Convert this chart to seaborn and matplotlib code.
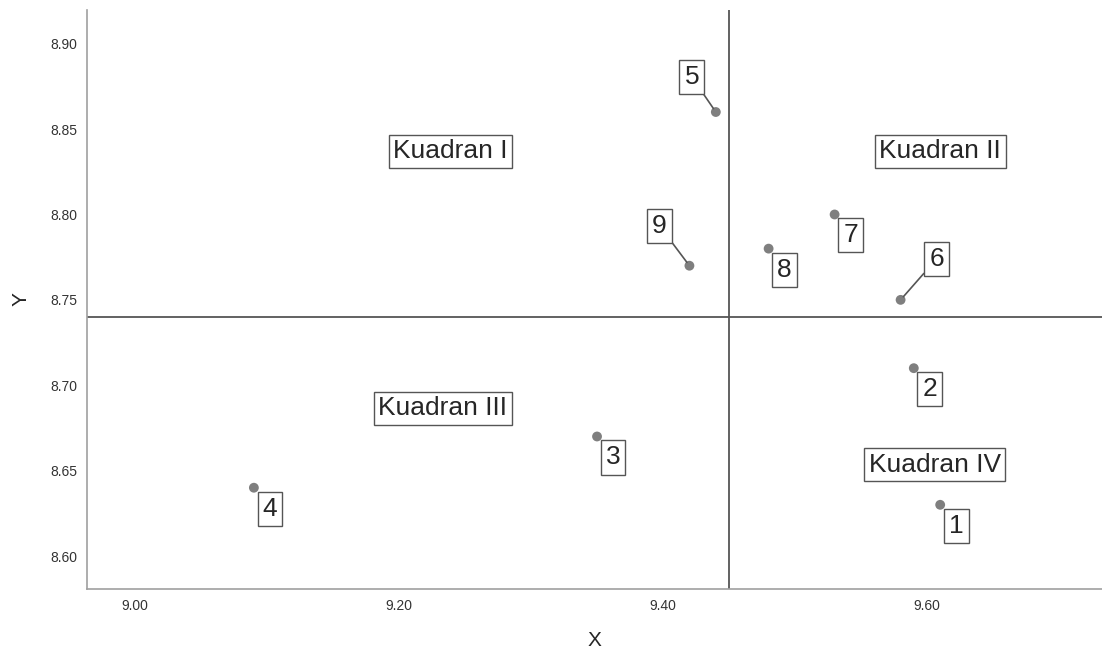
import matplotlib
matplotlib.use("Agg")
import matplotlib.pyplot as plt
import seaborn as sns
import pandas as pd

# data
ids = ["1", "2", "3", "4", "5", "6", "7", "8", "9"]
x_vals = [9.61, 9.59, 9.35, 9.09, 9.44, 9.58, 9.53, 9.48, 9.42]
y_vals = [8.63, 8.71, 8.67, 8.64, 8.86, 8.75, 8.80, 8.78, 8.77]
x_ref = 9.45
y_ref = 8.74
quadrants = ["Kuadran I", "Kuadran II", "Kuadran III", "Kuadran IV"]

df = pd.DataFrame({"id": ids, "X": x_vals, "Y": y_vals})

sns.set_style("white")
plt.rcParams["font.family"] = ["Liberation Sans", "DejaVu Sans"]

fig = plt.figure(figsize=(11.02, 6.54), dpi=100)
ax = fig.add_axes([0.079, 0.0994, 0.921, 0.886])

ax.axvline(x_ref, color="#555555", lw=1.3, zorder=1)
ax.axhline(y_ref, color="#555555", lw=1.3, zorder=1)

sns.scatterplot(data=df, x="X", y="Y", ax=ax, color="#7f7f7f", s=50,
                edgecolor="none", zorder=3)

# label offsets in pixels (dx, dy) from each point
offsets = [(16, -21), (16, -21), (16, -21), (16, -21), (-24, 35),
           (36, 41), (16, -21), (16, -21), (-30, 40)]
box = dict(boxstyle="square,pad=0.19", fc="white", ec="#555555", lw=1)
for lab, px, py, (dx, dy) in zip(ids, x_vals, y_vals, offsets):
    # only displaced labels get a leader line
    far = (dx ** 2 + dy ** 2) ** 0.5 > 40
    arrow = dict(arrowstyle="-", color="#555555", lw=1.2, shrinkA=0, shrinkB=3) if far else None
    ax.annotate(lab, (px, py), xytext=(dx, dy), textcoords="offset pixels",
                ha="center", va="center", fontsize=19, bbox=box,
                arrowprops=arrow, zorder=4)

q_pos = [(9.239, 8.837), (9.61, 8.837), (9.233, 8.6865), (9.606, 8.6535)]
for q, (qx, qy) in zip(quadrants, q_pos):
    ax.text(qx, qy, q, ha="center", va="center", fontsize=19,
            bbox=dict(boxstyle="square,pad=0.17", fc="white", ec="#555555", lw=1),
            zorder=4)

ax.set_xlim(8.9636, 9.7326)
ax.set_ylim(8.5807, 8.92)
ax.set_xticks([9.0, 9.2, 9.4, 9.6])
ax.set_xticklabels(["9.00", "9.20", "9.40", "9.60"])
ax.set_yticks([8.60, 8.65, 8.70, 8.75, 8.80, 8.85, 8.90])
ax.set_yticklabels(["8.60", "8.65", "8.70", "8.75", "8.80", "8.85", "8.90"])
ax.tick_params(length=0, labelsize=10, labelcolor="#333333", pad=7)
ax.set_xlabel("X", fontsize=15, labelpad=13)
ax.set_ylabel("Y", fontsize=15, labelpad=14)

sns.despine(ax=ax)
for s in ["left", "bottom"]:
    ax.spines[s].set_color("#a0a0a0")
    ax.spines[s].set_linewidth(1.2)

fig.savefig("out.png", dpi=100)
